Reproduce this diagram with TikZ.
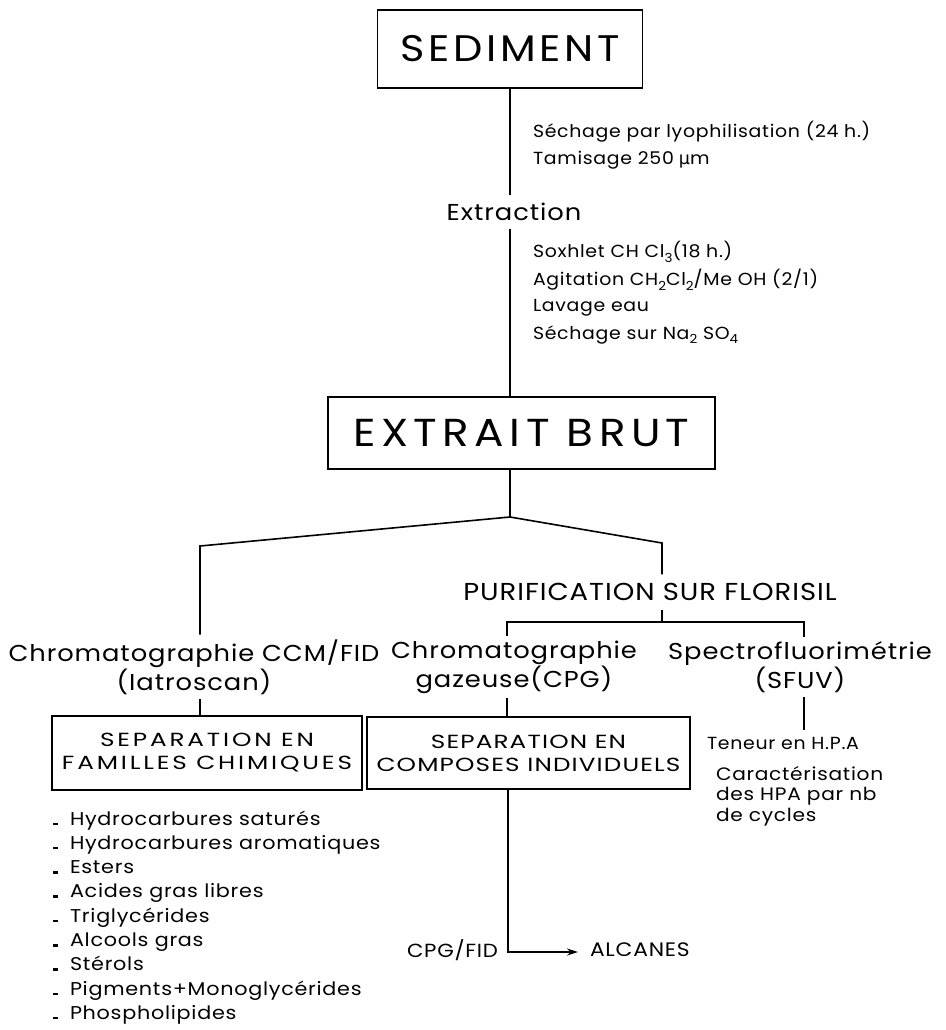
\documentclass[tikz,border=0pt]{standalone}
\usepackage{fontspec}
\setmainfont{Poppins}[FakeStretch=1.12,LetterSpace=4]
\newfontfamily\smallfont{Poppins}[FakeStretch=1.08,LetterSpace=4]
\newfontfamily\widefont{Poppins}[FakeStretch=1.3,LetterSpace=6]
\newfontfamily\widerfont{Poppins}[FakeStretch=1.3,LetterSpace=15]
\newfontfamily\dvs{DejaVu Sans}[FakeStretch=1.0]
\usetikzlibrary{arrows.meta,calc}
\newcommand{\sbs}[1]{\raisebox{-0.45ex}{\fontsize{12.5}{13}\selectfont #1}}
\newcommand{\bul}{\rule{5pt}{2.5pt}\hspace{12pt}}
\begin{document}
\begin{tikzpicture}[x=1pt,y=-1pt,
  every node/.style={inner sep=0pt, outer sep=0pt},
  ln/.style={line width=1.3pt},
  box/.style={draw, line width=1.6pt},
  ttl/.style={font=\fontsize{37}{40}\selectfont\addfontfeature{LetterSpace=10}},
  med/.style={font=\fontsize{23}{26}\selectfont, align=center},
  sm/.style={font=\smallfont\fontsize{17.5}{20}\selectfont, anchor=west},
  boxtxt/.style={font=\widefont\fontsize{19}{23}\selectfont, align=center},
  lst/.style={font=\fontsize{18.5}{20}\selectfont, anchor=base west},
]
\useasboundingbox (0,0) rectangle (945,1030);
% top
\node[box, ttl, minimum width=265pt, minimum height=78pt] (sed) at (510,49) {SEDIMENT};
\node[font=\fontsize{23}{24}\selectfont, inner ysep=8pt] (ext) at (514,212) {Extraction};
\node[sm] (s1) at (533,132) {Séchage par lyophilisation (24 h.)};
\node[sm] (s2) at (533,160) {Tamisage 250\hspace{5pt}{\dvs µ}m};
\node[sm] (s3) at (533,252) {Soxhlet CH Cl\sbs{3}(18 h.)};
\node[sm] (s4) at (533,280) {Agitation CH\sbs{2}Cl\sbs{2}/Me OH (2/1)};
\node[sm] (s5) at (533,308) {Lavage eau};
\node[sm] (s6) at (533,335) {Séchage sur Na\sbs{2} SO\sbs{4}};
\node[box, font=\fontsize{39}{40}\selectfont\addfontfeature{LetterSpace=14}, minimum width=387pt, minimum height=72pt] (brut) at (521.5,433) {EXTRAIT BRUT};
% second level
\node[med, font=\fontsize{24.5}{26}\selectfont, inner ysep=9pt] (purif) at (650,592) {PURIFICATION SUR FLORISIL};
\node[med, inner ysep=5pt] (ccm) at (194,667) {Chromatographie CCM/FID\\(Iatroscan)};
\node[med, inner ysep=5pt] (cpg) at (514,667) {Chromatographie\\gazeuse(CPG)};
\node[med, inner ysep=5pt] (sfuv) at (800,667) {Spectrofluorimétrie\\(SFUV)};
\node[box, boxtxt, font=\widerfont\fontsize{19}{23}\selectfont, minimum width=310pt, minimum height=74pt] (fam) at (207,753) {SEPARATION EN\\FAMILLES CHIMIQUES};
\node[box, boxtxt, minimum width=323pt, minimum height=72pt] (comp) at (528.5,753) {SEPARATION EN\\COMPOSES INDIVIDUELS};
\node[sm, anchor=center, inner ysep=7pt] (ten) at (783,743) {Teneur en H.P.A};
\node[font=\fontsize{18}{20.5}\selectfont, align=left, anchor=north west] (car) at (716,766) {Caractérisation\\des HPA par nb\\de cycles};
% list
\foreach \t [count=\i from 0] in {Hydrocarbures saturés, Hydrocarbures aromatiques, Esters, Acides gras libres, Triglycérides, Alcools gras, Stérols, Pigments+Monoglycérides, Phospholipides}{
  \node[lst] (l\i) at (53,{825+24.3*\i}) {\bul\t};
}
\node[sm, anchor=east, font=\fontsize{19}{20}\selectfont] (cpgfid) at (498,950) {CPG/FID};
\node[sm, font=\fontsize{19.5}{20}\selectfont] (alc) at (590,950) {ALCANES};
% connectors
\coordinate (pk) at (510,517);
\coordinate (lc) at (200,546);
\coordinate (rc) at (662,543);
\coordinate (bl) at (507,622);
\coordinate (br) at (804,622);
\draw[ln] (sed.south) -- (sed.south |- ext.north);
\draw[ln] (sed.south |- ext.south) -- (sed.south |- brut.north);
\draw[ln] (pk |- brut.south) -- (pk);
\draw[ln, line width=1.6pt] (lc |- ccm.north) -- (lc) -- (pk) -- (rc) -- (rc |- purif.north);
\draw[ln] (rc |- purif.south) -- (rc |- bl);
\draw[ln] (bl |- cpg.north) -- (bl) -- (br) -- (br |- sfuv.north);
\draw[ln] (lc |- ccm.south) -- (lc |- fam.north);
\draw[ln] (bl |- cpg.south) -- (bl |- comp.north);
\draw[ln] (br |- sfuv.south) -- (br |- ten.north);
\coordinate (elb) at (508,952);
\draw[ln, -{Stealth[length=11pt,width=7pt]}, shorten >=12pt] (elb |- comp.south) -- (elb) -- (elb -| alc.west);
\end{tikzpicture}
\end{document}
